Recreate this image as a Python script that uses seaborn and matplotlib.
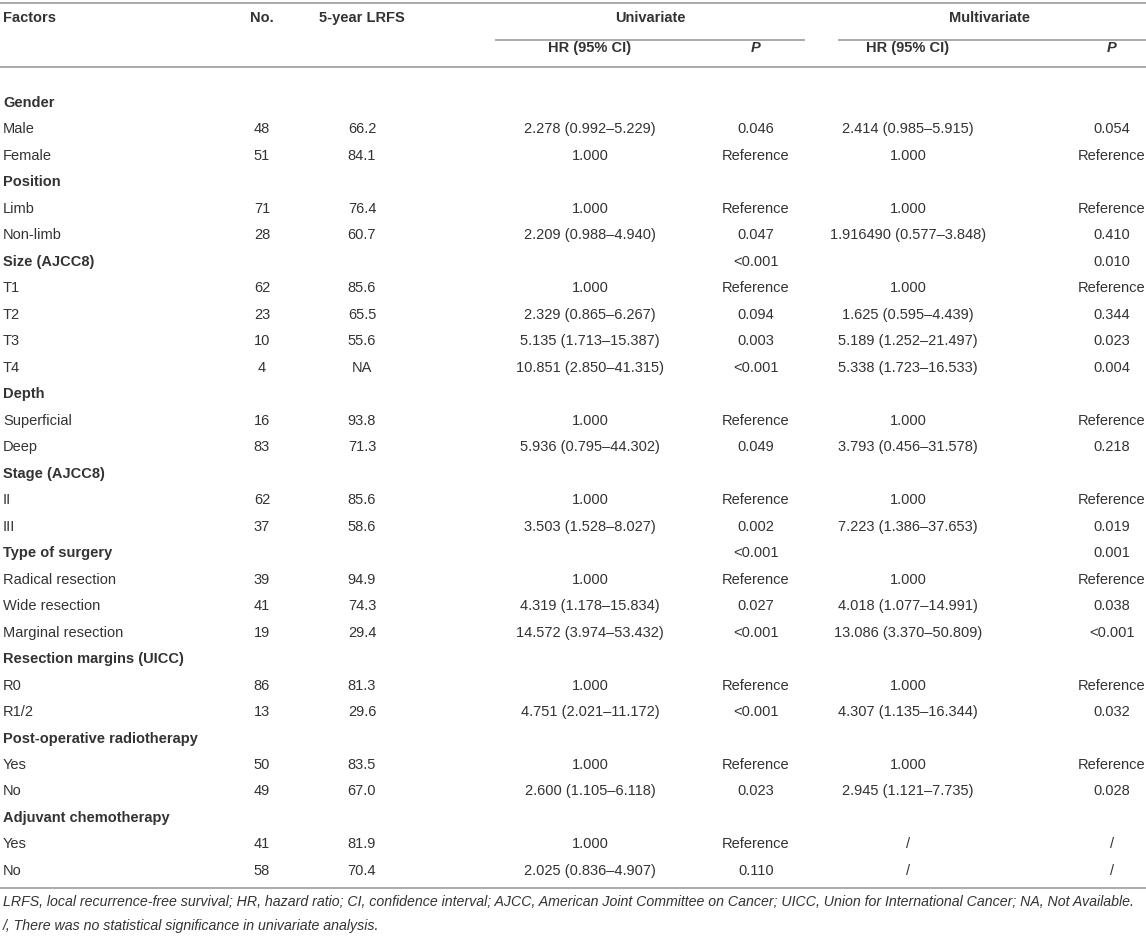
import matplotlib
matplotlib.use("Agg")
import matplotlib.pyplot as plt
import pandas as pd
import seaborn as sns

# table content, row by row
factors = ["Gender", "Male", "Female", "Position", "Limb", "Non-limb", "Size (AJCC8)",
           "T1", "T2", "T3", "T4", "Depth", "Superficial", "Deep", "Stage (AJCC8)",
           "II", "III", "Type of surgery", "Radical resection", "Wide resection",
           "Marginal resection", "Resection margins (UICC)", "R0", "R1/2",
           "Post-operative radiotherapy", "Yes", "No", "Adjuvant chemotherapy", "Yes", "No"]
heading = [1, 0, 0, 1, 0, 0, 1, 0, 0, 0, 0, 1, 0, 0, 1, 0, 0, 1, 0, 0, 0, 1, 0, 0, 1, 0, 0, 1, 0, 0]
numbers = ["", "48", "51", "", "71", "28", "", "62", "23", "10", "4", "", "16", "83", "",
           "62", "37", "", "39", "41", "19", "", "86", "13", "", "50", "49", "", "41", "58"]
lrfs = ["", "66.2", "84.1", "", "76.4", "60.7", "", "85.6", "65.5", "55.6", "NA", "", "93.8",
        "71.3", "", "85.6", "58.6", "", "94.9", "74.3", "29.4", "", "81.3", "29.6", "",
        "83.5", "67.0", "", "81.9", "70.4"]
uni_hr = ["", "2.278 (0.992–5.229)", "1.000", "", "1.000", "2.209 (0.988–4.940)", "",
          "1.000", "2.329 (0.865–6.267)", "5.135 (1.713–15.387)", "10.851 (2.850–41.315)", "",
          "1.000", "5.936 (0.795–44.302)", "", "1.000", "3.503 (1.528–8.027)", "",
          "1.000", "4.319 (1.178–15.834)", "14.572 (3.974–53.432)", "", "1.000",
          "4.751 (2.021–11.172)", "", "1.000", "2.600 (1.105–6.118)", "", "1.000",
          "2.025 (0.836–4.907)"]
uni_p = ["", "0.046", "Reference", "", "Reference", "0.047", "<0.001", "Reference", "0.094",
         "0.003", "<0.001", "", "Reference", "0.049", "", "Reference", "0.002", "<0.001",
         "Reference", "0.027", "<0.001", "", "Reference", "<0.001", "", "Reference", "0.023",
         "", "Reference", "0.110"]
multi_hr = ["", "2.414 (0.985–5.915)", "1.000", "", "1.000", "1.916490 (0.577–3.848)", "",
            "1.000", "1.625 (0.595–4.439)", "5.189 (1.252–21.497)", "5.338 (1.723–16.533)", "",
            "1.000", "3.793 (0.456–31.578)", "", "1.000", "7.223 (1.386–37.653)", "",
            "1.000", "4.018 (1.077–14.991)", "13.086 (3.370–50.809)", "", "1.000",
            "4.307 (1.135–16.344)", "", "1.000", "2.945 (1.121–7.735)", "", "/", "/"]
multi_p = ["", "0.054", "Reference", "", "Reference", "0.410", "0.010", "Reference", "0.344",
           "0.023", "0.004", "", "Reference", "0.218", "", "Reference", "0.019", "0.001",
           "Reference", "0.038", "<0.001", "", "Reference", "0.032", "", "Reference", "0.028",
           "", "/", "/"]

footnote_1 = ("LRFS, local recurrence-free survival; HR, hazard ratio; CI, confidence interval; "
              "AJCC, American Joint Committee on Cancer; UICC, Union for International Cancer; "
              "NA, Not Available.")
footnote_2 = "/, There was no statistical significance in univariate analysis."

df = pd.DataFrame({"Factors": factors, "No.": numbers, "5-year LRFS": lrfs,
                   "uni_hr": uni_hr, "uni_p": uni_p, "multi_hr": multi_hr, "multi_p": multi_p})

sns.set_theme(style="white")
plt.rcParams["font.family"] = ["Liberation Sans", "DejaVu Sans"]

ink = "#333333"
rule = "#aaaaaa"
fs = 10.5

fig = plt.figure(figsize=(11.46, 9.41), dpi=100)
ax = fig.add_axes([0, 0, 1, 1])
ax.set_xlim(0, 1146)
ax.set_ylim(941, 0)
ax.axis("off")

# column centres
col_x = {"No.": 262, "5-year LRFS": 362, "uni_hr": 590, "uni_p": 756,
         "multi_hr": 908, "multi_p": 1112}

# header
ax.hlines(3, 0, 1146, color=rule, lw=1.4)
ax.text(3, 18, "Factors", fontsize=fs, weight="bold", color=ink, va="center")
ax.text(col_x["No."], 18, "No.", fontsize=fs, weight="bold", color=ink, va="center", ha="center")
ax.text(col_x["5-year LRFS"], 18, "5-year LRFS", fontsize=fs, weight="bold", color=ink,
        va="center", ha="center")
ax.text(650, 18, "Univariate", fontsize=fs, weight="bold", color=ink, va="center", ha="center")
ax.text(990, 18, "Multivariate", fontsize=fs, weight="bold", color=ink, va="center", ha="center")
ax.hlines(40, 495, 805, color=rule, lw=1.4)
ax.hlines(40, 838, 1146, color=rule, lw=1.4)
for key in ["uni_hr", "multi_hr"]:
    ax.text(col_x[key], 48, "HR (95% CI)", fontsize=fs, weight="bold", color=ink,
            va="center", ha="center")
for key in ["uni_p", "multi_p"]:
    ax.text(col_x[key], 48, "P", fontsize=fs, weight="bold", style="italic", color=ink,
            va="center", ha="center")
ax.hlines(67, 0, 1146, color=rule, lw=1.4)

# body
y0 = 103
step = 26.48
for i, row in df.iterrows():
    y = y0 + i * step
    ax.text(3, y, row["Factors"], fontsize=fs, color=ink, va="center",
            weight="bold" if heading[i] else "normal")
    for key, x in col_x.items():
        if row[key]:
            ax.text(x, y, row[key], fontsize=fs, color=ink, va="center", ha="center")

ax.hlines(888, 0, 1146, color=rule, lw=1.4)
ax.text(3, 902, footnote_1, fontsize=10.2, style="italic", color=ink, va="center")
ax.text(3, 926, footnote_2, fontsize=10.2, style="italic", color=ink, va="center")

fig.savefig("out.png", dpi=100)
